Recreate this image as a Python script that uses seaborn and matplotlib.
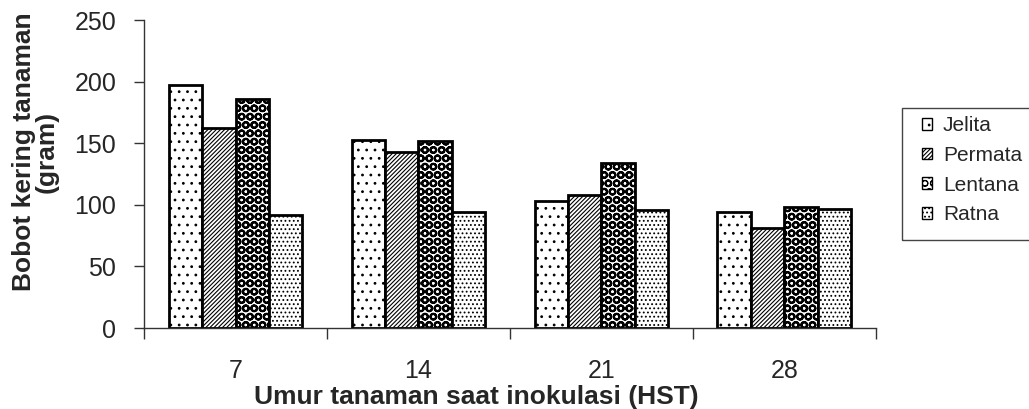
import numpy as np
import pandas as pd
import matplotlib
matplotlib.use("Agg")
import matplotlib.pyplot as plt
import seaborn as sns
from matplotlib.patches import Patch, Rectangle

sns.set_style("white")
plt.rcParams['font.family'] = ['Liberation Sans', 'DejaVu Sans']
plt.rcParams['hatch.linewidth'] = 0.8

# data
umur = ["7", "14", "21", "28"]
varietas = ["Jelita", "Permata", "Lentana", "Ratna"]
jelita = [197, 153, 103, 94]
permata = [162, 143, 108, 81]
lentana = [186, 152, 134, 98]
ratna = [92, 94, 96, 97]

df = pd.DataFrame({
    "Umur": umur * 4,
    "Varietas": np.repeat(varietas, 4),
    "Bobot": jelita + permata + lentana + ratna,
})

fig = plt.figure(figsize=(10.29, 4.09), dpi=100)
ax = fig.add_axes([0.140, 0.198, 0.711, 0.753])

sns.barplot(data=df, x="Umur", y="Bobot", hue="Varietas", order=umur,
            hue_order=varietas, width=0.73, ax=ax, legend=False,
            palette=["white"] * 4, edgecolor="black", linewidth=2.0,
            saturation=1)

hatches = ["..", "////////", "OO", "...."]
for cont, h, v in zip(ax.containers, hatches, varietas):
    for bar in cont:
        bar.set_hatch(h)
        if v == "Lentana" and hasattr(bar, "set_hatch_linewidth"):
            bar.set_hatch_linewidth(1.5)

# legend, frame drawn by hand so it runs off the right edge like the original
fig.patches.append(Rectangle((902 / 1029, 1 - 240 / 409), 0.2, 132 / 409,
                             transform=fig.transFigure, facecolor="none",
                             edgecolor="#444444", linewidth=1.0))
handles = [Patch(facecolor="white", edgecolor="black", hatch=h, label=v)
           for h, v in zip(hatches, varietas)]
fig.legend(handles=handles, loc="upper left",
           bbox_to_anchor=(922 / 1029, 1 - 116 / 409),
           frameon=False, fontsize=15,
           handlelength=0.5, handleheight=0.5, handletextpad=0.5,
           labelspacing=0.52, borderpad=0, borderaxespad=0)

ax.set_ylim(0, 250)
ax.set_yticks([0, 50, 100, 150, 200, 250])
ax.set_xlim(-0.5, 3.5)
ax.set_xticks(np.arange(-0.5, 4.0, 1.0))
ax.set_xticklabels([])
ax.set_xticks(np.arange(4), labels=umur, minor=True)
ax.tick_params(axis="x", which="major", length=8, width=1, direction="out",
               bottom=True, color="#333333")
ax.tick_params(axis="x", which="minor", length=0, pad=22, labelsize=18)
ax.tick_params(axis="y", length=7, width=1, direction="out", left=True,
               labelsize=18, pad=13, color="#333333")

sns.despine(ax=ax)
for s in ["left", "bottom"]:
    ax.spines[s].set_color("#333333")
    ax.spines[s].set_linewidth(1.0)

ax.set_xlabel("Umur tanaman saat inokulasi (HST)", fontsize=19,
              fontweight="bold")
ax.xaxis.set_label_coords(0.454, -0.186)
ax.set_ylabel("Bobot kering tanaman\n(gram)", fontsize=19,
              fontweight="bold", linespacing=0.9)
ax.yaxis.set_label_coords(-0.117, 0.571)

fig.savefig("out.png", dpi=100, facecolor="white")
